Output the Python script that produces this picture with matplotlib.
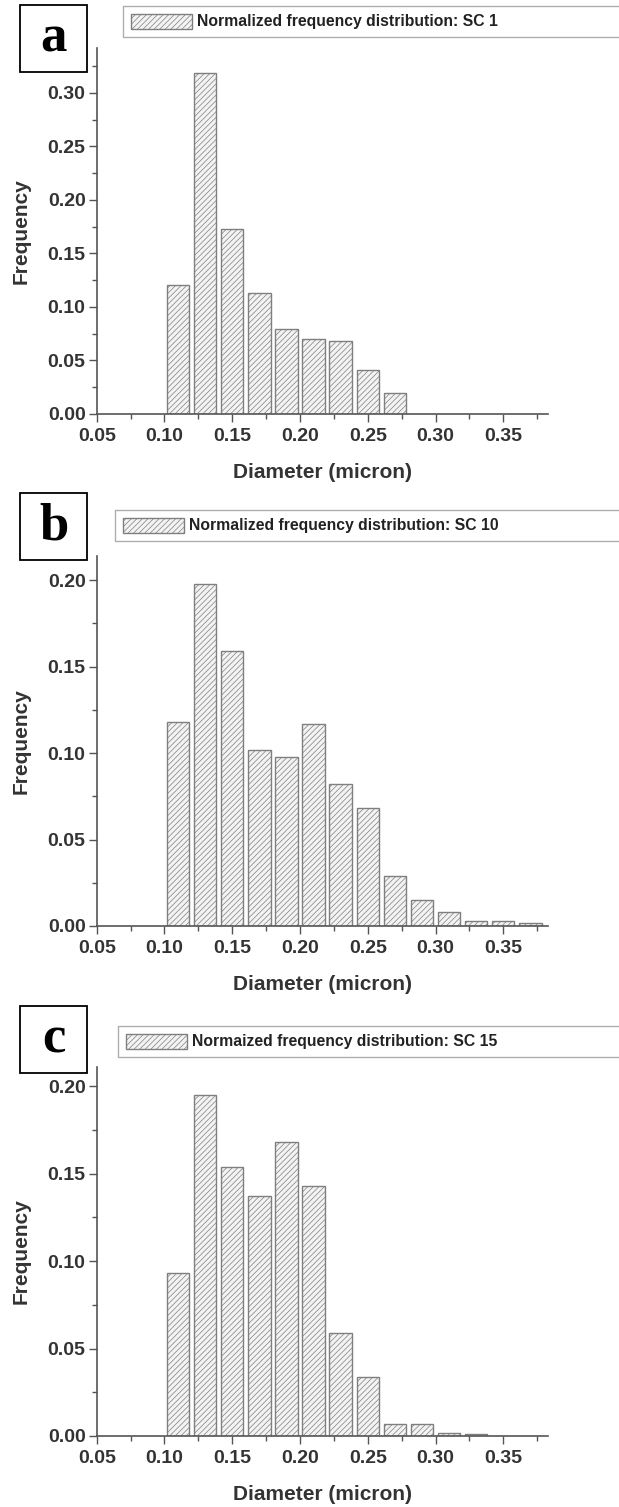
import matplotlib
matplotlib.use("Agg")
import matplotlib.pyplot as plt
from matplotlib.ticker import MultipleLocator, FormatStrFormatter

plt.rcParams['font.family'] = ['Liberation Sans', 'DejaVu Sans']
plt.rcParams['hatch.linewidth'] = 0.5
plt.rcParams['hatch.color'] = '#9a9a9a'

# Bin centres (micron) and normalised frequencies for each sample
centers_sc1 = [0.11, 0.13, 0.15, 0.17, 0.19, 0.21, 0.23, 0.25, 0.27]
freq_sc1 = [0.121, 0.319, 0.173, 0.113, 0.079, 0.070, 0.068, 0.041, 0.020]

centers_sc10 = [0.11, 0.13, 0.15, 0.17, 0.19, 0.21, 0.23, 0.25, 0.27,
                0.29, 0.31, 0.33, 0.35, 0.37]
freq_sc10 = [0.118, 0.198, 0.159, 0.102, 0.098, 0.117, 0.082, 0.068, 0.029,
             0.015, 0.008, 0.003, 0.003, 0.0015]

centers_sc15 = [0.11, 0.13, 0.15, 0.17, 0.19, 0.21, 0.23, 0.25, 0.27,
                0.29, 0.31, 0.33]
freq_sc15 = [0.093, 0.195, 0.154, 0.137, 0.168, 0.143, 0.059, 0.034, 0.007,
             0.007, 0.0015, 0.0013]

panel_letters = ['a', 'b', 'c']
legend_texts = ['Normalized frequency distribution: SC 1',
                'Normalized frequency distribution: SC 10',
                'Normaized frequency distribution: SC 15']
x_label = 'Diameter (micron)'
y_label = 'Frequency'
x_ticks = [0.05, 0.10, 0.15, 0.20, 0.25, 0.30, 0.35]

W, H = 619, 1507
fig = plt.figure(figsize=(W / 100, H / 100), dpi=100)

axis_color = '#555555'
text_color = '#333333'

# pixel layout of each panel
layout = [
    dict(top=48, bottom=414, ymax=0.342, ystep=0.05,
         box=(20, 5, 87, 72), leg=(123, 5, 38)),
    dict(top=556, bottom=926, ymax=0.214, ystep=0.05,
         box=(20, 493, 87, 560), leg=(115, 510, 541)),
    dict(top=1067, bottom=1436, ymax=0.211, ystep=0.05,
         box=(20, 1006, 87, 1073), leg=(118, 1025, 1058)),
]
series = [(centers_sc1, freq_sc1), (centers_sc10, freq_sc10),
          (centers_sc15, freq_sc15)]

left_px, right_px = 96.7, 548

for i, (lay, (cx, fy)) in enumerate(zip(layout, series)):
    ax = fig.add_axes([left_px / W, 1 - lay['bottom'] / H,
                       (right_px - left_px) / W,
                       (lay['bottom'] - lay['top']) / H])
    bars = ax.bar(cx, fy, width=0.0165, color='#f3f3f3', edgecolor='#7f7f7f',
                  linewidth=1.0, hatch='//////', zorder=2)
    ax.set_xlim(0.05, 0.383)
    ax.set_ylim(0, lay['ymax'])
    ax.set_xticks(x_ticks)
    ax.xaxis.set_minor_locator(MultipleLocator(0.025))
    ax.yaxis.set_major_locator(MultipleLocator(lay['ystep']))
    ax.yaxis.set_minor_locator(MultipleLocator(lay['ystep'] / 2))
    ax.xaxis.set_major_formatter(FormatStrFormatter('%.2f'))
    ax.yaxis.set_major_formatter(FormatStrFormatter('%.2f'))
    for s in ['top', 'right']:
        ax.spines[s].set_visible(False)
    for s in ['left', 'bottom']:
        ax.spines[s].set_color(axis_color)
        ax.spines[s].set_linewidth(1.2)
    ax.tick_params(which='major', direction='out', length=6, width=1.0,
                   color=axis_color, labelsize=14, labelcolor=text_color,
                   pad=2)
    ax.tick_params(axis='x', which='major', pad=4)
    ax.tick_params(which='minor', direction='out', length=3.5, width=1.0,
                   color=axis_color)
    for lab in ax.get_xticklabels() + ax.get_yticklabels():
        lab.set_fontweight('bold')
    ax.set_xlabel(x_label, fontsize=15, fontweight='bold', color=text_color,
                  labelpad=13)
    ax.set_ylabel(y_label, fontsize=15, fontweight='bold', color=text_color)
    ax.yaxis.set_label_coords(-(left_px - 31) / (right_px - left_px), 0.5)

    # legend frame spanning to the right edge of the figure
    lx, ly0, ly1 = lay['leg']
    leg = ax.legend([bars], [legend_texts[i]], loc='center left',
                    bbox_to_anchor=(lx / W, 1 - ly1 / H, 1 - lx / W + 0.01,
                                    (ly1 - ly0) / H),
                    bbox_transform=fig.transFigure, mode='expand',
                    frameon=True, fancybox=False, borderaxespad=0,
                    handlelength=3.9, handleheight=1.1, handletextpad=0.3,
                    borderpad=0.5, prop=dict(size=11.3, weight='bold'))
    leg.get_frame().set_edgecolor('#9a9a9a')
    leg.get_frame().set_linewidth(1.0)
    for t in leg.get_texts():
        t.set_color('#222222')

    # boxed panel letter
    bx0, by0, bx1, by1 = lay['box']
    fig.patches.append(plt.Rectangle((bx0 / W, 1 - by1 / H),
                                     (bx1 - bx0) / W, (by1 - by0) / H,
                                     transform=fig.transFigure, fill=False,
                                     edgecolor='black', linewidth=1.3))
    fig.text((bx0 + bx1) / 2 / W, 1 - (by0 + by1) / 2 / H, panel_letters[i],
             family=['Liberation Serif', 'DejaVu Serif'], weight='bold',
             fontsize=38, ha='center', va='center', color='black')

fig.savefig('out.png', dpi=100)
